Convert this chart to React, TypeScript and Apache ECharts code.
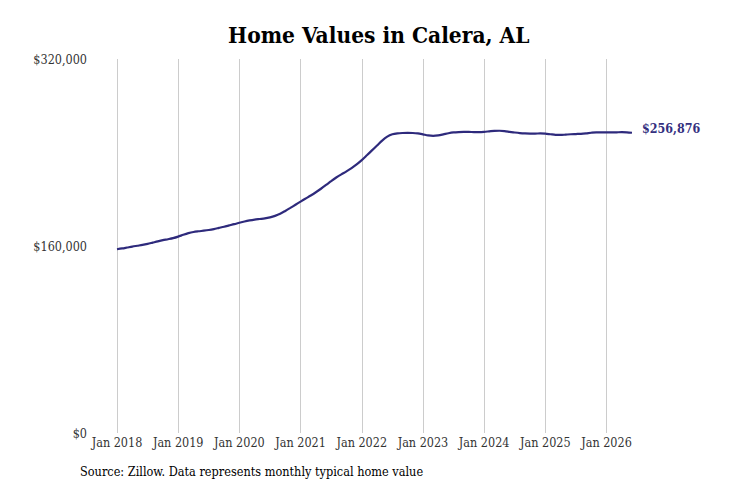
import React, { useEffect, useRef } from "react";
import * as echarts from "echarts";

const TITLE = "Home Values in Calera, AL";
const SOURCE = "Source: Zillow. Data represents monthly typical home value";
const END_LABEL = "$256,876";
const START_YEAR = 2018;

// Monthly typical home value (thousands of dollars), Jan 2018 .. Jun 2026
const values: number[] = [
  157.2, 157.9, 158.7, 159.5, 160.2, 160.9, 161.8, 162.9, 164.0, 165.0, 165.8, 166.7,
  168.0, 169.6, 171.0, 172.0, 172.6, 173.1, 173.7, 174.5, 175.5, 176.5, 177.6, 178.7,
  179.9, 181.0, 181.9, 182.6, 183.1, 183.6, 184.5, 185.8, 187.6, 190.0, 192.6, 195.3,
  198.0, 200.6, 203.2, 206.0, 209.0, 212.2, 215.5, 218.6, 221.3, 223.8, 226.6, 229.8,
  233.5, 237.6, 241.8, 246.0, 250.2, 253.6, 255.6, 256.4, 256.7, 256.8, 256.7, 256.3,
  255.5, 254.6, 254.2, 254.6, 255.5, 256.5, 257.2, 257.5, 257.6, 257.6, 257.5, 257.5,
  257.7, 258.1, 258.5, 258.6, 258.3, 257.7, 257.1, 256.6, 256.3, 256.2, 256.2, 256.3,
  256.1, 255.6, 255.1, 255.0, 255.3, 255.6, 255.8, 256.0, 256.4, 256.9, 257.2, 257.2,
  257.2, 257.2, 257.3, 257.4, 257.3, 256.876,
];

const MONTHS = ["Jan", "Feb", "Mar", "Apr", "May", "Jun", "Jul", "Aug", "Sep", "Oct", "Nov", "Dec"];
const categories: string[] = values.map((_, i) => `${MONTHS[i % 12]} ${START_YEAR + Math.floor(i / 12)}`);

const yTicks = [0, 160000, 320000];

const FONT = "'DejaVu Serif Condensed', 'DejaVu Serif', serif";
const LINE_COLOR = "#2e2a7c";

export default function App() {
  const ref = useRef<HTMLDivElement>(null);
  useEffect(() => {
    document.body.style.margin = "0";
    if (!ref.current) return;
    const chart = echarts.init(ref.current, undefined, { renderer: "svg" });
    const isJan = (i: number) => i % 12 === 0;
    chart.setOption({
      animation: false,
      title: {
        text: TITLE,
        left: 223,
        top: 18,
        textStyle: { fontFamily: FONT, fontWeight: "bold", fontSize: 22.5, color: "#000" },
      },
      grid: { left: 117, right: 99, top: 59, bottom: 54, containLabel: false },
      xAxis: {
        type: "category",
        data: categories,
        boundaryGap: false,
        axisLine: { show: false },
        axisTick: { show: false },
        axisLabel: {
          interval: (i: number) => isJan(i),
          margin: 2.5,
          fontFamily: FONT,
          fontSize: 12.5,
          color: "#333",
        },
        splitLine: {
          show: true,
          interval: (i: number) => isJan(i),
          lineStyle: { color: "#cccccc", width: 1 },
        },
      },
      yAxis: {
        type: "value",
        min: yTicks[0],
        max: yTicks[yTicks.length - 1],
        interval: yTicks[1] - yTicks[0],
        axisLine: { show: false },
        axisTick: { show: false },
        splitLine: { show: false },
        axisLabel: {
          margin: 30,
          fontFamily: FONT,
          fontSize: 12.5,
          color: "#333",
          formatter: (v: number) => "$" + v.toLocaleString("en-US"),
        },
      },
      series: [
        {
          type: "line",
          data: values.map((v) => v * 1000),
          smooth: 0.3,
          symbol: "none",
          lineStyle: { color: LINE_COLOR, width: 2.2 },
          endLabel: {
            show: true,
            formatter: () => END_LABEL,
            distance: 10,
            offset: [0, -4],
            fontFamily: FONT,
            fontWeight: "bold",
            fontSize: 12.4,
            color: "#34307f",
          },
        },
      ],
      graphic: [
        {
          type: "text",
          left: 80,
          top: 465,
          style: { text: SOURCE, fontFamily: FONT, fontSize: 12.6, fill: "#000" },
        },
      ],
    });
    return () => chart.dispose();
  }, []);
  return <div ref={ref} style={{ width: 731, height: 487 }} />;
}
